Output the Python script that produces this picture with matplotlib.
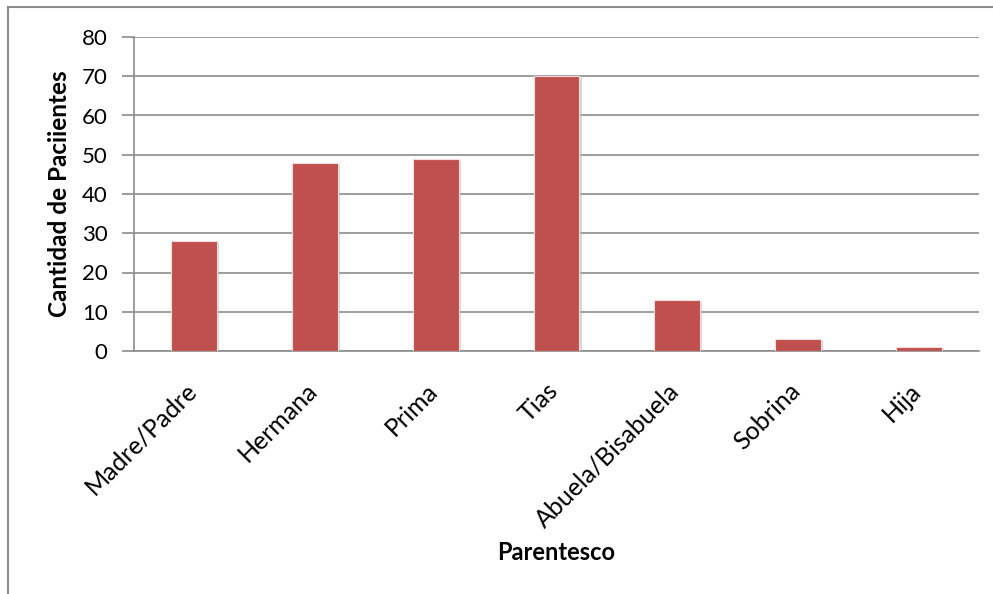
import matplotlib.pyplot as plt
import matplotlib.patheffects as pe
import matplotlib.transforms as mtransforms
from matplotlib.lines import Line2D

parentesco = ['Madre/Padre', 'Hermana', 'Prima', 'Tias',
              'Abuela/Bisabuela', 'Sobrina', 'Hija']
pacientes = [28, 48, 49, 70, 13, 3, 1]
yticks = [0, 10, 20, 30, 40, 50, 60, 70, 80]

plt.rcParams['font.family'] = ['Lato', 'DejaVu Sans']

fig = plt.figure(figsize=(9.93, 5.94), dpi=100)
ax = fig.add_axes([134 / 993, 1 - 351 / 594, (979 - 134) / 993, (351 - 37) / 594])

x = range(len(parentesco))
bars = ax.bar(x, pacientes, width=0.38, color='#c0504d', edgecolor='#f2dcdb',
              linewidth=0.8, zorder=3)
for b in bars:
    b.set_path_effects([pe.SimplePatchShadow(offset=(1.5, -1.5), shadow_rgbFace='#b0b0b0',
                                             alpha=0.5), pe.Normal()])

ax.set_xlim(-0.5, len(parentesco) - 0.5)
ax.set_ylim(0, 80)
ax.set_yticks(yticks)
ax.yaxis.grid(True, color='#8c8c8c', linewidth=1.2, zorder=0)
ax.tick_params(axis='y', length=9, width=1.2, color='#8c8c8c', labelsize=16, pad=10)
ax.tick_params(axis='x', length=0, labelsize=18, pad=20)
ax.set_xticks(list(x))
ax.set_xticklabels(parentesco, rotation=45, ha='right', rotation_mode='anchor')

# nudge the slanted category labels a little to the left
shift = mtransforms.ScaledTranslation(-10 / 100, 0, fig.dpi_scale_trans)
for lbl in ax.get_xticklabels():
    lbl.set_transform(lbl.get_transform() + shift)

for s in ['top', 'right']:
    ax.spines[s].set_visible(False)
for s in ['left', 'bottom']:
    ax.spines[s].set_color('#8c8c8c')
    ax.spines[s].set_linewidth(1.2)

ax.set_xlabel('Parentesco', fontsize=17, fontweight='bold', labelpad=7)
ax.set_ylabel('Cantidad de Paciientes', fontsize=17.5, fontweight='bold', labelpad=8)

# outer chart frame (left and top edges only)
fig.add_artist(Line2D([8 / 993, 8 / 993], [0, 1 - 7 / 594], transform=fig.transFigure,
                      color='#8c8c8c', linewidth=1.5))
fig.add_artist(Line2D([8 / 993, 1], [1 - 7 / 594, 1 - 7 / 594], transform=fig.transFigure,
                      color='#8c8c8c', linewidth=1.5))

fig.savefig('out.png', dpi=100)
